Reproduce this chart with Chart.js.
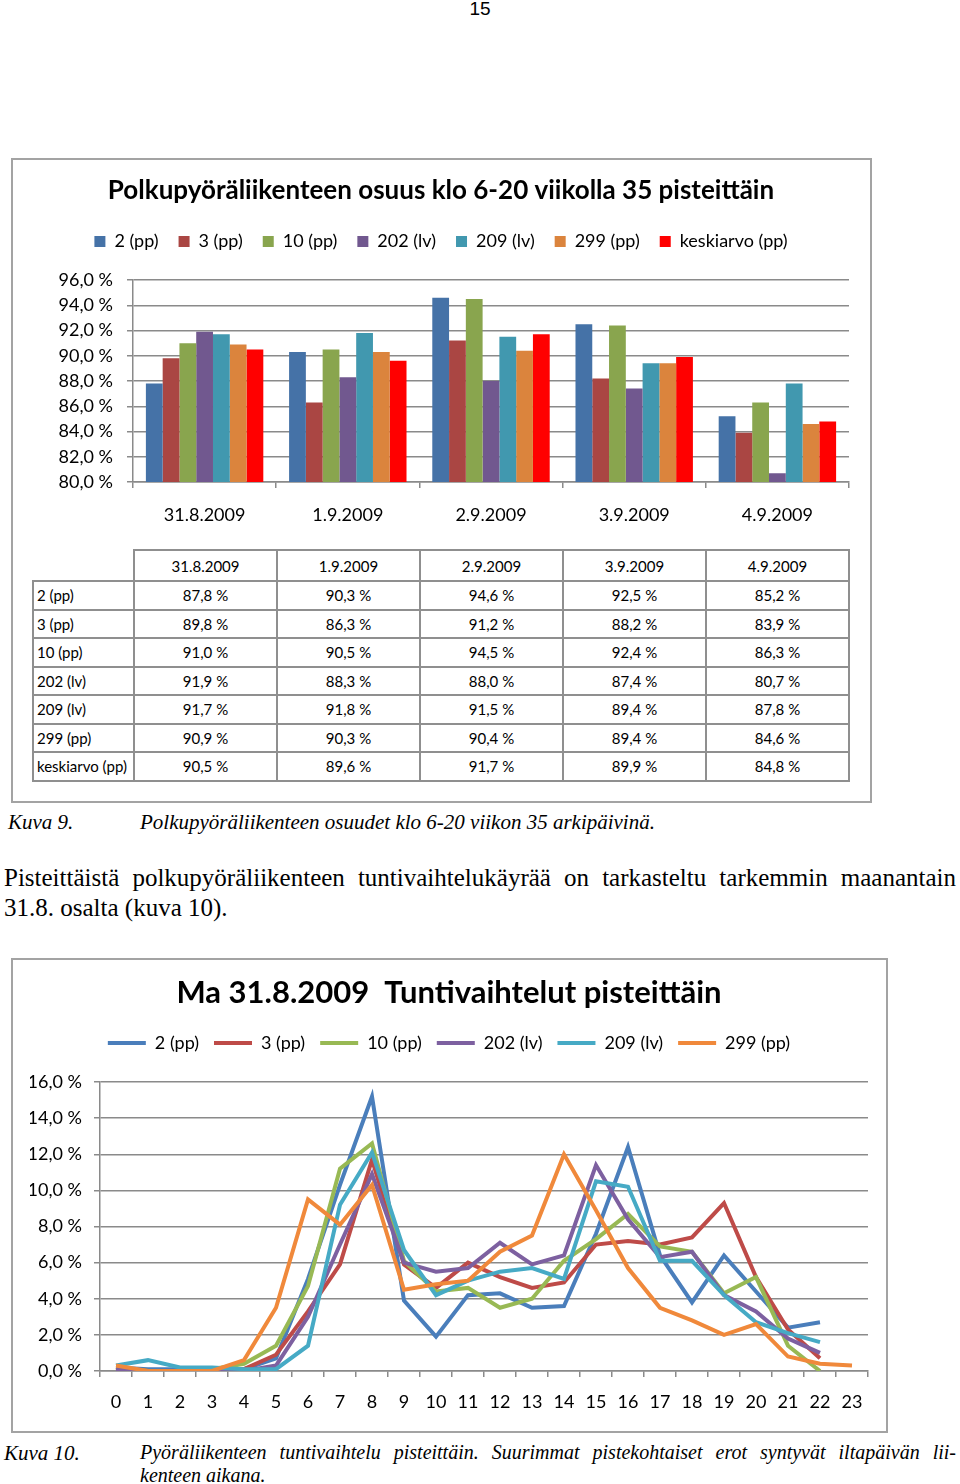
<!DOCTYPE html>
<html>
<head>
<meta charset="utf-8">
<script src="https://cdn.jsdelivr.net/npm/chart.js@4.4.0/dist/chart.umd.min.js"></script>
<style>
  body { margin: 0; width: 960px; height: 1484px; position: relative; background: #fff; overflow: hidden; font-family: "Liberation Serif", serif; color: #000; }
  .abs { position: absolute; white-space: nowrap; font-family: "Liberation Serif", serif; }
  .frame { position: absolute; border: 2px solid #a3a3a3; box-sizing: border-box; }
  .box { position: absolute; }
  #tbl { position: absolute; left: 32px; top: 549px; border-collapse: collapse; table-layout: fixed; font-family: Lato, sans-serif; font-size: 15px; }
  #tbl td { border: 2px solid #8f8f8f; text-align: center; padding: 0; }
  #tbl td.lab { text-align: left; padding-left: 3px; }
  #tbl td.blank { border-top: none; border-left: none; }
  #tbl tr { height: 28.5px; }
  #tbl tr.head { height: 31px; }
  .cap { font-style: italic; font-size: 21px; }
  .just { text-align: justify; text-align-last: justify; white-space: normal; }
</style>
</head>
<body>

<div class="abs" style="left:0;width:960px;top:-2px;text-align:center;font-family:'Liberation Sans',sans-serif;font-size:19px;">15</div>

<!-- kuva 9 -->
<div class="frame" style="left:11px;top:158px;width:861px;height:645px;"></div>
<div class="box" style="left:11px;top:158px;width:860px;height:380px;"><canvas id="bars"></canvas></div>
<table id="tbl"></table>

<div class="abs cap" style="left:8px;top:810px;">Kuva 9.</div>
<div class="abs cap" style="left:140px;top:810px;">Polkupyöräliikenteen osuudet klo 6-20 viikon 35 arkipäivinä.</div>

<div class="abs just" style="left:4px;top:864px;width:952px;font-size:25px;">Pisteittäistä polkupyöräliikenteen tuntivaihtelukäyrää on tarkasteltu tarkemmin maanantain</div>
<div class="abs" style="left:4px;top:894px;font-size:25px;">31.8. osalta (kuva 10).</div>

<!-- kuva 10 -->
<div class="frame" style="left:11px;top:958px;width:877px;height:475px;"></div>
<div class="box" style="left:11px;top:958px;width:876px;height:474px;"><canvas id="lines"></canvas></div>

<div class="abs cap" style="left:4px;top:1441px;">Kuva 10.</div>
<div class="abs cap just" style="left:140px;top:1441px;width:816px;font-size:20px;">Pyöräliikenteen tuntivaihtelu pisteittäin. Suurimmat pistekohtaiset erot syntyvät iltapäivän lii-</div>
<div class="abs cap" style="left:140px;top:1464px;font-size:20px;">kenteen aikana.</div>

<script>
// viikon 35 arkipäivät
const dates = ['31.8.2009', '1.9.2009', '2.9.2009', '3.9.2009', '4.9.2009'];
const points = ['2 (pp)', '3 (pp)', '10 (pp)', '202 (lv)', '209 (lv)', '299 (pp)', 'keskiarvo (pp)'];

const share2 = [87.8, 90.3, 94.6, 92.5, 85.2];
const share3 = [89.8, 86.3, 91.2, 88.2, 83.9];
const share10 = [91.0, 90.5, 94.5, 92.4, 86.3];
const share202 = [91.9, 88.3, 88.0, 87.4, 80.7];
const share209 = [91.7, 91.8, 91.5, 89.4, 87.8];
const share299 = [90.9, 90.3, 90.4, 89.4, 84.6];
const shareAvg = [90.5, 89.6, 91.7, 89.9, 84.8];
const shares = [share2, share3, share10, share202, share209, share299, shareAvg];

const barTicks = [80, 82, 84, 86, 88, 90, 92, 94, 96];

// Ma 31.8.2009 tuntivaihtelu
const hours = ['0','1','2','3','4','5','6','7','8','9','10','11','12','13','14','15','16','17','18','19','20','21','22','23'];
const lineNames = ['2 (pp)', '3 (pp)', '10 (pp)', '202 (lv)', '209 (lv)', '299 (pp)'];
const hour2   = [0.2, 0.1, 0.1, 0.1, 0.1, 0.7, 5.1, 10.3, 15.2, 3.9, 1.9, 4.2, 4.3, 3.5, 3.6, 7.6, 12.4, 6.4, 3.8, 6.4, 4.4, 2.4, 2.7, null];
const hour3   = [0.2, 0.0, 0.0, 0.1, 0.1, 0.9, 3.3, 5.9, 11.7, 5.9, 4.6, 6.0, 5.2, 4.6, 4.9, 7.0, 7.2, 7.0, 7.4, 9.3, 5.2, 2.3, 0.7, null];
const hour10  = [0.2, 0.0, 0.0, 0.1, 0.4, 1.4, 4.7, 11.2, 12.6, 6.1, 4.4, 4.6, 3.5, 4.0, 6.1, 7.3, 8.7, 6.9, 6.6, 4.3, 5.2, 1.4, 0.0, null];
const hour202 = [0.1, 0.0, 0.0, 0.0, 0.0, 0.3, 3.0, 7.0, 10.9, 6.0, 5.5, 5.7, 7.1, 5.9, 6.4, 11.4, 8.4, 6.3, 6.6, 4.2, 3.3, 1.8, 1.0, null];
const hour209 = [0.3, 0.6, 0.2, 0.2, 0.1, 0.1, 1.4, 9.2, 12.1, 6.7, 4.2, 5.0, 5.5, 5.7, 5.1, 10.5, 10.2, 6.1, 6.1, 4.2, 2.7, 2.1, 1.6, null];
const hour299 = [0.3, 0.0, 0.0, 0.0, 0.6, 3.5, 9.5, 8.1, 10.3, 4.5, 4.8, 5.0, 6.6, 7.5, 12.0, 8.9, 5.7, 3.5, 2.8, 2.0, 2.6, 0.8, 0.4, 0.3];
const hourSeries = [hour2, hour3, hour10, hour202, hour209, hour299];

const lineTicks = [0, 2, 4, 6, 8, 10, 12, 14, 16];

const barColors = ['#4572A7', '#AA4643', '#89A54E', '#71588F', '#4198AF', '#DB843D', '#FF0000'];
const lineColors = ['#4A7EBB', '#BE4B48', '#98B954', '#7D60A0', '#46AAC5', '#F0893B'];
const gridColor = '#8a8a8a';

const pct = v => v.toFixed(1).replace('.', ',') + ' %';

Chart.defaults.font.family = 'Lato';
Chart.defaults.color = '#000';

// tyhjää legendan ja kuvaajan väliin, kuten Excelissä
const legendGap = {
  id: 'legendGap',
  beforeLayout(chart, args, opts) {
    const lg = chart.legend;
    if (lg && !lg._gapFit) {
      const fit = lg.fit;
      lg.fit = function () {
        fit.call(this);
        this.height += opts.gap;
      };
      lg._gapFit = true;
    }
  }
};

// taulukko pylväiden alle
const tbl = document.getElementById('tbl');
let html = '<colgroup><col style="width:101px">' + dates.map(() => '<col style="width:143px">').join('') + '</colgroup>';
html += '<tr class="head"><td class="blank"></td>' + dates.map(d => '<td>' + d + '</td>').join('') + '</tr>';
points.forEach((p, i) => {
  html += '<tr><td class="lab">' + p + '</td>' + shares[i].map(v => '<td>' + pct(v) + '</td>').join('') + '</tr>';
});
tbl.innerHTML = html;

new Chart(document.getElementById('bars'), {
  type: 'bar',
  data: {
    labels: dates,
    datasets: points.map((p, i) => ({
      label: p,
      data: shares[i],
      backgroundColor: barColors[i],
      categoryPercentage: 0.82,
      barPercentage: 1
    }))
  },
  plugins: [legendGap],
  options: {
    responsive: true,
    maintainAspectRatio: false,
    animation: false,
    layout: { padding: { left: 22, right: 22, top: 0, bottom: 6 } },
    plugins: {
      title: {
        display: true,
        text: 'Polkupyöräliikenteen osuus klo 6-20 viikolla 35 pisteittäin',
        font: { size: 26, weight: 'bold' },
        color: '#000',
        padding: { top: 17.4, bottom: 5.9 }
      },
      legend: { labels: { boxWidth: 11, boxHeight: 11, font: { size: 18 }, color: '#000', padding: 20 } },
      legendGap: { gap: 19.5 },
      tooltip: { enabled: false }
    },
    scales: {
      x: {
        grid: { offset: true, drawOnChartArea: false, tickLength: 6, color: gridColor, lineWidth: 1.5 },
        border: { color: gridColor, width: 1.5 },
        ticks: { font: { size: 18 }, color: '#000', padding: 16 },
        afterFit(s) { s.height = 50; }
      },
      y: {
        min: barTicks[0],
        max: barTicks[barTicks.length - 1],
        afterBuildTicks(s) { s.ticks = barTicks.map(v => ({ value: v })); },
        ticks: { callback: v => pct(v), font: { size: 18 }, color: '#000', padding: 14 },
        grid: { color: gridColor, lineWidth: 1.5, tickLength: 6 },
        border: { color: gridColor, width: 1.5 },
        afterFit(s) { s.width = 100; }
      }
    }
  }
});

new Chart(document.getElementById('lines'), {
  type: 'line',
  data: {
    labels: hours,
    datasets: lineNames.map((n, i) => ({
      label: n,
      data: hourSeries[i],
      borderColor: lineColors[i],
      backgroundColor: lineColors[i],
      borderWidth: 4,
      pointRadius: 0,
      tension: 0,
      order: lineNames.length - i
    }))
  },
  plugins: [legendGap],
  options: {
    responsive: true,
    maintainAspectRatio: false,
    animation: false,
    layout: { padding: { left: 19, right: 19, top: 0, bottom: 0 } },
    plugins: {
      title: {
        display: true,
        text: 'Ma 31.8.2009  Tuntivaihtelut pisteittäin',
        font: { size: 31, weight: 'bold' },
        color: '#000',
        padding: { top: 16.4, bottom: 7.4 }
      },
      legend: {
        labels: {
          sort: (a, b) => a.datasetIndex - b.datasetIndex,
          usePointStyle: true, pointStyle: 'line', pointStyleWidth: 38,
          font: { size: 18 }, color: '#000', padding: 15
        }
      },
      legendGap: { gap: 20 },
      tooltip: { enabled: false }
    },
    scales: {
      x: {
        offset: true,
        grid: { offset: true, drawOnChartArea: false, tickLength: 6, color: gridColor, lineWidth: 1.5 },
        border: { color: gridColor, width: 1.5 },
        ticks: { font: { size: 18 }, color: '#000', padding: 14, maxRotation: 0, autoSkip: false },
        afterFit(s) { s.height = 61; }
      },
      y: {
        min: lineTicks[0],
        max: lineTicks[lineTicks.length - 1],
        afterBuildTicks(s) { s.ticks = lineTicks.map(v => ({ value: v })); },
        ticks: { callback: v => pct(v), font: { size: 18 }, color: '#000', padding: 12 },
        grid: { color: gridColor, lineWidth: 1.5, tickLength: 6 },
        border: { color: gridColor, width: 1.5 },
        afterFit(s) { s.width = 70; }
      }
    }
  }
});
</script>
</body>
</html>
